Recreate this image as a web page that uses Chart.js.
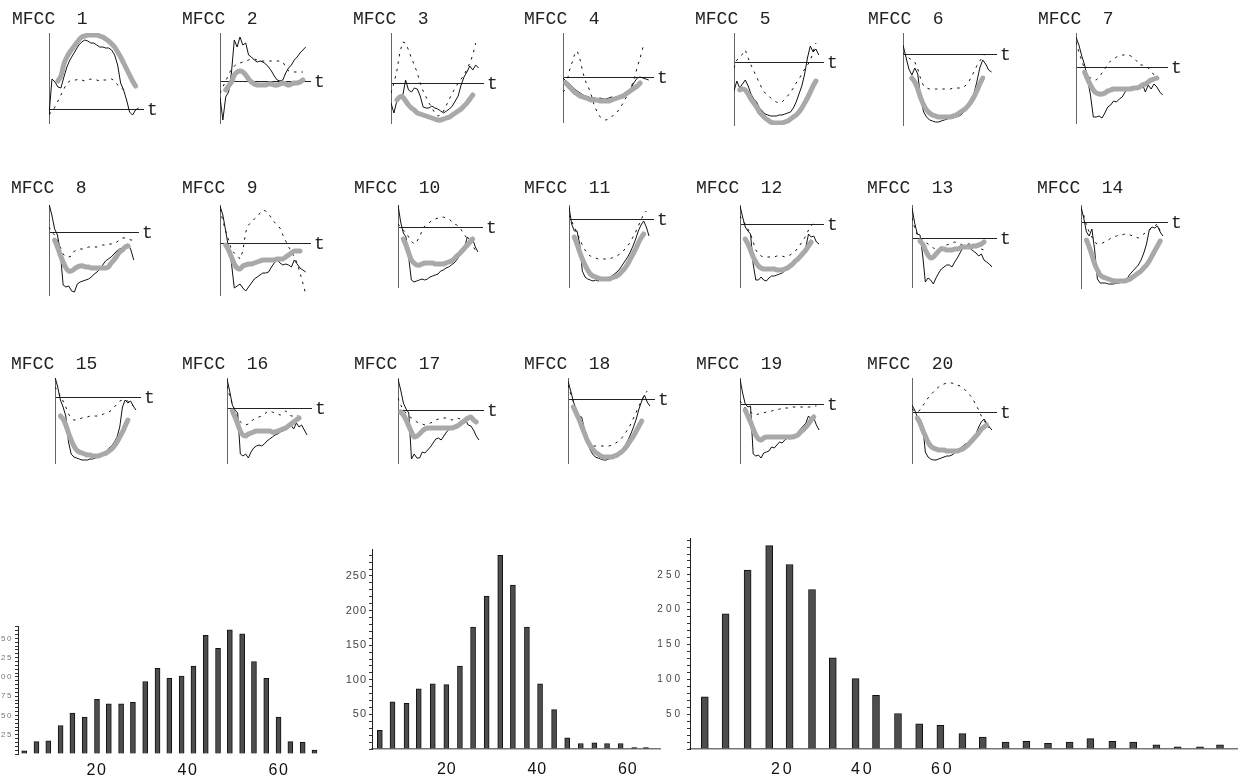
<!DOCTYPE html>
<html>
<head>
<meta charset="utf-8">
<title>MFCC trajectories and histograms</title>
<script src="https://cdn.jsdelivr.net/npm/chart.js@4.4.1/dist/chart.umd.min.js"></script>
<style>
  html, body { margin: 0; background: #fff; }
  body { position: relative; width: 1238px; height: 781px; overflow: hidden; }
  canvas { position: absolute; }
</style>
</head>
<body>
<script>
// ---- data ----

// sample positions along t, shared by every small panel
const tIndex = [0, 1, 2, 3, 4, 5, 6, 7, 8, 9, 10, 11, 12, 13, 14, 15, 16, 17, 18, 19, 20, 21, 22, 23, 24, 25, 26, 27, 28, 29, 30];

const mfccTitles = ['MFCC  1', 'MFCC  2', 'MFCC  3', 'MFCC  4', 'MFCC  5', 'MFCC  6', 'MFCC  7',
  'MFCC  8', 'MFCC  9', 'MFCC  10', 'MFCC  11', 'MFCC  12', 'MFCC  13', 'MFCC  14',
  'MFCC  15', 'MFCC  16', 'MFCC  17', 'MFCC  18', 'MFCC  19', 'MFCC  20'];

// thin solid black trace, one row per MFCC
const solidLines = [
  [-6, 30, 27, 22, 21, 32, 42, 49, 54, 59, 64, 67, 69, 68, 66, 66, 64, 62, 62, 61, 61, 59, 54, 44, 26, 19, 9, -3, -6, -1, 1],
  [-16, -39, -16, -11, 8, 41, 34, 44, 36, 38, 26, 24, 21, 19, 20, 19, 17, 14, 10, 5, 1, 0, 1, 8, 13, 16, 21, 24, 28, 31, 34],
  [-20, -30, -18, -15, -13, 3, -7, -9, -5, -6, -13, -24, -25, -25, -23, -25, -26, -28, -30, -28, -26, -23, -18, -13, -2, 6, 11, 17, 13, 18, 15],
  [-1, -4, -6, -9, -12, -14, -16, -18, -19, -20, -21, -21, -22, -21, -22, -22, -21, -20, -21, -20, -19, -18, -17, -15, -10, -5, -1, 0, -1, -2, -3],
  [-29, -19, -26, -22, -18, -24, -32, -37, -40, -46, -49, -52, -53, -54, -54, -54, -53, -53, -52, -51, -50, -46, -40, -32, -24, -12, 4, 16, 10, 13, 7],
  [9, -3, -15, -21, -14, -20, -45, -58, -63, -66, -67, -68, -68, -67, -66, -65, -64, -64, -63, -62, -60, -57, -53, -48, -40, -28, -14, -6, -10, -16, -18],
  [30, 22, 11, 2, -12, -28, -50, -50, -49, -51, -46, -40, -38, -34, -35, -32, -30, -25, -22, -20, -22, -22, -19, -17, -25, -18, -22, -17, -20, -25, -28],
  [28, 17, 3, -3, -20, -53, -55, -54, -59, -60, -52, -50, -49, -48, -47, -45, -42, -40, -37, -33, -29, -27, -25, -22, -19, -17, -16, -13, -12, -18, -28],
  [37, 28, 12, -5, -20, -45, -43, -41, -45, -48, -44, -40, -36, -34, -32, -30, -30, -29, -24, -20, -17, -20, -22, -21, -22, -24, -17, -21, -25, -27, -29],
  [22, 5, -6, -10, -30, -53, -55, -54, -53, -52, -53, -52, -50, -49, -48, -47, -44, -43, -41, -40, -38, -36, -33, -29, -25, -20, -10, -13, -12, -20, -25],
  [12, -5, -12, -12, -25, -52, -58, -60, -61, -62, -61, -62, -61, -60, -60, -59, -57, -55, -53, -50, -46, -42, -38, -33, -27, -20, -12, -6, -2, -8, -17],
  [18, 7, -3, -7, -10, -40, -56, -56, -53, -56, -57, -54, -52, -52, -51, -50, -49, -47, -45, -42, -40, -37, -34, -30, -27, -23, -10, -13, -12, -18, -20],
  [30, 15, 4, 3, -17, -44, -40, -42, -46, -40, -35, -31, -29, -27, -27, -29, -24, -20, -15, -10, -8, -7, -11, -13, -15, -18, -16, -22, -24, -26, -29],
  [15, 4, -10, -14, -7, -28, -57, -61, -61, -61, -62, -62, -62, -61, -61, -59, -58, -56, -52, -49, -46, -43, -38, -31, -22, -8, -5, -6, -4, -10, -14],
  [20, 10, -3, -10, -19, -45, -57, -60, -61, -62, -63, -63, -63, -62, -62, -61, -60, -58, -56, -54, -51, -49, -45, -40, -30, -10, -3, -6, -4, -9, -13],
  [29, 17, 3, -2, -5, -46, -48, -46, -50, -44, -40, -38, -37, -38, -36, -33, -31, -29, -27, -26, -24, -23, -21, -19, -17, -21, -15, -19, -17, -22, -27],
  [31, 20, 7, 1, -3, -49, -44, -48, -48, -42, -43, -40, -37, -33, -29, -28, -30, -26, -22, -19, -18, -17, -15, -14, -12, -10, -15, -16, -20, -26, -30],
  [18, 8, -3, -10, -17, -18, -30, -42, -50, -55, -58, -59, -60, -61, -61, -60, -59, -58, -56, -53, -50, -46, -41, -35, -28, -20, -10, -2, 4, -3, -7],
  [25, 11, 0, -3, -2, -50, -52, -51, -54, -49, -48, -47, -43, -44, -41, -38, -39, -36, -34, -35, -33, -31, -28, -25, -22, -19, -12, -15, -14, -21, -26],
  [7, 2, -5, -7, -13, -40, -45, -47, -48, -48, -47, -46, -45, -44, -44, -43, -41, -39, -37, -34, -32, -31, -30, -27, -22, -15, -10, -7, -11, -15, -18]
];

// thin dashed black trace
const dashedLines = [
  [-5, -3, 2, 8, 14, 20, 26, 28, 29, 29, 30, 29, 28, 29, 30, 29, 29, 28, 29, 29, 29, 30, 28, 24, 22, 19, null, null, null, null, null],
  [-12, -6, 0, 6, 12, 15, 17, 18, 19, 20, 21, 22, 22, 21, 20, 20, 20, 20, 20, 20, 20, 20, 19, 14, 10, 9, 9, 9, 9, 9, null],
  [-10, 0, 12, 30, 41, 40, 33, 25, 18, 10, 0, -8, -14, -20, -25, -30, -33, -32, -28, -22, -16, -10, -5, 0, 4, 8, 14, 20, 28, 40, null],
  [-15, -12, 4, 13, 22, 26, 17, 4, -5, -11, -19, -29, -35, -40, -42, -43, -42, -40, -37, -35, -31, -26, -21, -16, -9, -1, 10, 19, 30, null, null],
  [-6, 2, 4, 8, 12, 4, -3, -9, -15, -21, -27, -31, -33, -36, -38, -40, -41, -40, -37, -34, -30, -26, -21, -17, -12, -7, -3, 1, 10, 19, null],
  [1, -2, -4, -6, -8, -15, -25, -32, -34, -35, -35, -35, -35, -35, -35, -35, -35, -34, -34, -34, -34, -32, -29, -24, -18, -12, -7, -3, 0, null, null],
  [25, 15, 6, -2, -8, -11, -13, -13, -10, -6, -2, 3, 6, 8, 10, 11, 12, 12, 12, 11, 9, 6, 2, 2, 1, -1, -4, -8, null, null, null],
  [5, 0, -3, -8, -15, -22, -25, -25, -24, -19, -18, -17, -17, -16, -15, -15, -15, -15, -14, -13, -13, -12, -12, -12, -10, -8, -6, -6, -7, -8, -8],
  [34, 22, 12, 3, -7, -10, -12, -16, -8, 11, 18, 21, 24, 26, 30, 33, 32, 29, 25, 21, 18, 15, 8, 2, -4, -8, -14, -20, -30, -40, -51],
  [3, 0, -3, -6, -10, -14, -17, -15, -10, -4, 1, 3, 5, 7, 8, 9, 10, 10, 9, 8, 6, 3, 2, 0, -4, -8, -12, -15, -19, -23, null],
  [4, -2, -8, -14, -20, -26, -31, -35, -37, -38, -39, -40, -40, -40, -40, -40, -39, -38, -37, -35, -33, -30, -27, -23, -18, -13, -7, -1, 5, 8, null],
  [8, 3, 0, -5, -10, -18, -26, -30, -32, -33, -33, -33, -33, -33, -32, -32, -32, -33, -32, -31, -29, -27, -24, -20, -16, -12, -6, -2, 1, 2, null],
  [20, 10, 3, 0, -2, -4, -6, -8, -10, -11, -10, -9, -8, -7, -6, -5, -4, -5, -6, -7, -7, -6, -6, -6, -7, -9, -11, -12, -14, null, null],
  [14, 7, -3, -10, -15, -20, -22, -22, -21, -19, -18, -16, -15, -14, -13, -13, -12, -12, -13, -14, -15, -16, -14, -12, -10, -8, -6, -4, -2, -9, null],
  [10, 6, 1, -4, -10, -17, -21, -23, -23, -22, -21, -20, -20, -19, -19, -19, -19, -18, -17, -16, -15, -13, -10, -7, -4, -3, -3, -4, -7, -9, null],
  [22, 12, 4, -3, -9, -14, -16, -17, -16, -14, -11, -10, -9, -8, -6, -4, -3, -4, -5, -6, -7, -5, -3, -5, -8, -8, -7, -9, -12, null, null],
  [12, 5, 0, -3, -6, -8, -10, -12, -13, -14, -15, -14, -13, -12, -10, -9, -8, -8, -8, -9, -10, -9, -8, -9, -10, -9, -8, -9, -11, -13, null],
  [14, 5, -3, -12, -20, -28, -35, -41, -45, -47, -47, -47, -47, -47, -47, -47, -46, -45, -43, -41, -38, -34, -30, -25, -19, -13, -7, -1, 4, 8, null],
  [3, -1, -4, -6, -8, -10, -11, -10, -9, -9, -8, -8, -7, -6, -6, -5, -5, -4, -4, -4, -3, -3, -3, -3, -3, -3, -3, -3, -2, -2, null],
  [3, 1, 0, 2, 6, 10, 14, 17, 20, 23, 25, 27, 28, 29, 29, 29, 28, 27, 26, 24, 22, 19, 16, 12, 7, 2, -4, -8, -13, -16, null]
];

// thick grey smoothed trace
const smoothLines = [
  [null, null, null, 28, 33, 45, 52, 57, 61, 65, 69, 72, 73, 74, 74, 74, 74, 73, 72, 70, 68, 65, 62, 57, 52, 46, 40, 34, 28, 23, null],
  [null, null, -9, -5, -1, 6, 9, 10, 9, 6, 2, -1, -3, -4, -4, -4, -4, -3, -3, -4, -4, -3, -2, -3, -4, -3, -2, -2, -1, 1, null],
  [null, null, -17, -14, -14, -18, -22, -25, -27, -30, -31, -32, -33, -34, -35, -36, -37, -37, -36, -35, -34, -32, -30, -28, -26, -23, -20, -16, -12, null, null],
  [null, -6, -9, -12, -15, -17, -19, -20, -21, -22, -23, -23, -23, -24, -24, -24, -24, -23, -22, -21, -20, -19, -17, -15, -13, -11, -9, -6, null, null, null],
  [null, null, -28, -27, -28, -32, -37, -41, -45, -50, -53, -56, -58, -60, -61, -61, -61, -61, -60, -59, -57, -55, -53, -50, -46, -41, -36, -30, -24, -19, null],
  [null, null, null, -24, -28, -35, -44, -51, -56, -59, -61, -62, -63, -63, -63, -63, -63, -62, -61, -59, -57, -55, -52, -48, -43, -37, -30, -24, null, null, null],
  [null, null, null, -5, -12, -18, -23, -26, -27, -27, -26, -24, -23, -22, -22, -22, -22, -22, -22, -22, -21, -21, -20, -18, -17, -15, -13, -12, -11, null, null],
  [null, null, -8, -15, -23, -30, -36, -39, -39, -37, -35, -34, -34, -35, -35, -36, -36, -36, -36, -36, -36, -35, -31, -28, -24, -20, -18, -15, -14, null, null],
  [null, null, -2, -7, -14, -21, -25, -26, -23, -22, -21, -21, -20, -19, -18, -17, -17, -17, -17, -17, -16, -16, -16, -14, -12, -10, -8, -8, -8, null, null],
  [null, null, -12, -18, -26, -33, -36, -38, -38, -37, -36, -36, -36, -36, -37, -37, -37, -37, -36, -35, -34, -32, -29, -27, -24, -21, -18, -15, -12, null, null],
  [null, null, -18, -25, -33, -40, -46, -51, -55, -57, -58, -59, -60, -60, -60, -60, -59, -58, -57, -55, -52, -49, -45, -40, -35, -30, -24, -19, -15, null, null],
  [null, null, -15, -20, -26, -33, -38, -42, -44, -45, -45, -45, -45, -45, -46, -46, -46, -45, -44, -42, -40, -37, -35, -32, -29, -26, -22, -18, null, null, null],
  [null, null, null, -3, -6, -12, -17, -20, -19, -16, -13, -11, -11, -12, -12, -12, -11, -11, -10, -9, -9, -9, -9, -8, -8, -7, -6, -4, null, null, null],
  [null, null, -18, -25, -33, -42, -48, -53, -55, -56, -57, -58, -59, -59, -59, -59, -59, -58, -57, -55, -53, -51, -49, -46, -43, -39, -34, -29, -24, -19, null],
  [null, null, -19, -22, -28, -36, -43, -49, -53, -55, -56, -57, -58, -58, -59, -59, -59, -58, -57, -56, -54, -52, -49, -45, -40, -35, -29, -23, null, null, null],
  [null, null, -3, -9, -16, -23, -27, -28, -26, -25, -24, -23, -23, -23, -23, -23, -23, -24, -24, -23, -22, -21, -20, -18, -16, -14, -12, -10, null, null, null],
  [null, -2, -5, -10, -16, -22, -27, -26, -24, -21, -19, -18, -18, -18, -18, -18, -18, -18, -18, -18, -18, -17, -16, -14, -12, -10, -8, -7, -10, -12, null],
  [null, null, -8, -14, -20, -27, -34, -41, -46, -50, -53, -55, -57, -58, -58, -58, -58, -57, -56, -54, -52, -49, -45, -41, -37, -32, -27, -22, null, null, null],
  [null, null, -6, -12, -18, -25, -31, -35, -36, -34, -33, -33, -33, -33, -33, -33, -33, -33, -33, -33, -33, -32, -31, -28, -26, -23, -20, -16, -13, null, null],
  [null, null, -6, -11, -18, -24, -30, -34, -36, -37, -38, -38, -38, -39, -39, -39, -39, -39, -38, -37, -35, -33, -30, -27, -24, -21, -17, -15, -13, null, null]
];

// vertical plot range of each panel [bottom, top]
const yRanges = [
  [-14, 76], [-42, 48], [-40, 50], [-45, 44], [-63, 29], [-71, 21], [-56, 34],
  [-63, 27], [-52, 38], [-60, 22], [-68, 14], [-63, 19], [-49, 33], [-66, 17],
  [-66, 19], [-55, 30], [-53, 32], [-64, 21], [-59, 26], [-51, 34]
];

// histograms: bin centres and counts
const hist1Bins = [4.0, 6.7, 9.3, 12.0, 14.6, 17.3, 20.0, 22.6, 25.3, 27.9, 30.6, 33.3, 35.9, 38.6, 41.2, 43.9, 46.6, 49.2, 51.9, 54.5, 57.2, 59.9, 62.5, 65.2, 67.8];
const hist1Counts = [4, 16, 17, 37, 53, 48, 71, 65, 65, 67, 94, 111, 98, 101, 114, 154, 137, 161, 156, 120, 98, 48, 16, 15, 5];
const hist2Bins = [5.2, 8.0, 11.1, 13.8, 16.9, 19.9, 22.9, 25.8, 28.8, 31.8, 34.6, 37.7, 40.6, 43.7, 46.6, 49.6, 52.6, 55.4, 58.4, 61.4, 64.0];
const hist2Counts = [27, 68, 66, 87, 94, 93, 120, 176, 221, 280, 237, 176, 94, 57, 16, 8, 9, 8, 8, 2, 2];
const hist3Bins = [0.5, 5.7, 11.2, 16.6, 21.7, 27.3, 32.5, 38.2, 43.3, 48.8, 54.1, 59.4, 64.9, 70.0, 75.7, 80.9, 86.3, 91.7, 96.9, 102.4, 107.6, 113.4, 118.7, 124.3, 129.3];
const hist3Counts = [75, 194, 257, 292, 265, 229, 131, 101, 77, 51, 36, 34, 22, 17, 10, 11, 8, 10, 15, 11, 10, 6, 3, 3, 6];
const histTickLabels = [20, 40, 60];

// ---- layout of the small panels ----
const panelTitleLeft = [12, 182, 353, 524, 695, 868, 1038, 11, 182, 354, 524, 696, 867, 1037, 11, 182, 354, 524, 696, 867];
const panelAxisLeft = [49, 220, 391, 563, 734, 903, 1076, 49, 220, 398, 569, 740, 912, 1081, 55, 227, 398, 568, 740, 912];
const panelAxisWidth = [94, 90, 92, 90, 89, 93, 91, 89, 90, 84, 84, 83, 84, 86, 85, 84, 85, 86, 83, 84];
const rowTitleY = [19, 188, 364];
const rowAxisTop = [33, 205, 378];

Chart.defaults.font.family = 'Liberation Sans';
Chart.defaults.animation = false;

function place(w, h, left, top) {
  const cv = document.createElement('canvas');
  cv.width = w;
  cv.height = h;
  cv.style.left = left + 'px';
  cv.style.top = top + 'px';
  document.body.appendChild(cv);
  return cv;
}

const toPoints = (xs, ys) => ys.map((y, i) => ({ x: xs[i], y: y }));

// the "t" at the end of each horizontal axis
const tLabel = {
  id: 'tLabel',
  afterDraw(chart) {
    const { ctx, chartArea, scales } = chart;
    ctx.save();
    ctx.font = '18px "Liberation Mono"';
    ctx.fillStyle = '#222';
    ctx.textAlign = 'left';
    ctx.textBaseline = 'middle';
    ctx.fillText('t', chartArea.right + 4, scales.y.getPixelForValue(0) + 1);
    ctx.restore();
  }
};

// canvas letter spacing for the spaced-out histogram labels
const spacing = {
  id: 'spacing',
  beforeUpdate(chart, args, opts) { chart.ctx.letterSpacing = opts.px || '0px'; },
  beforeDraw(chart, args, opts) { chart.ctx.letterSpacing = opts.px || '0px'; }
};

mfccTitles.forEach((title, k) => {
  const row = Math.floor(k / 7);
  const [yMin, yMax] = yRanges[k];
  const top = rowTitleY[row] - 9;
  const yAxisW = panelAxisLeft[k] - panelTitleLeft[k];
  const plotH = yMax - yMin;
  const cv = place(yAxisW + panelAxisWidth[k] + 24, rowAxisTop[row] - top + plotH + 1, panelTitleLeft[k], top);

  new Chart(cv, {
    type: 'line',
    data: {
      datasets: [
        { data: toPoints(tIndex, smoothLines[k]), borderColor: '#a9a9a9', borderWidth: 5, tension: 0.3, borderCapStyle: 'round', borderJoinStyle: 'round' },
        { data: toPoints(tIndex, solidLines[k]), borderColor: '#111', borderWidth: 1 },
        { data: toPoints(tIndex, dashedLines[k]), borderColor: '#111', borderWidth: 1, borderDash: [2.5, 5] }
      ]
    },
    options: {
      responsive: false,
      events: [],
      elements: { point: { radius: 0 }, line: { tension: 0 } },
      layout: { padding: { right: 24, bottom: 1 } },
      plugins: {
        legend: { display: false },
        tooltip: { enabled: false },
        title: {
          display: true,
          text: title,
          align: 'start',
          color: '#222',
          font: { family: 'Liberation Mono', size: 18, weight: 'normal', lineHeight: 1 },
          padding: { top: 0, bottom: rowAxisTop[row] - top - 18 }
        }
      },
      scales: {
        x: {
          type: 'linear', min: 0, max: 31.5,
          position: { y: 0 },
          grid: { display: false, drawTicks: false },
          ticks: { display: false },
          border: { color: '#222', width: 1 }
        },
        y: {
          min: yMin, max: yMax,
          grid: { display: false, drawTicks: false },
          ticks: { display: false },
          border: { color: '#666', width: 1 },
          afterFit: s => { s.width = yAxisW; }
        }
      }
    },
    plugins: [tLabel]
  });
});

// ---- histograms ----
function histogram(cfg) {
  const cv = place(cfg.w, cfg.h, cfg.left, cfg.top);
  new Chart(cv, {
    type: 'bar',
    data: {
      datasets: [{
        data: toPoints(cfg.bins, cfg.counts),
        backgroundColor: '#4d4d4d',
        borderColor: '#111',
        borderWidth: 1,
        barThickness: cfg.barW
      }]
    },
    options: {
      responsive: false,
      events: [],
      layout: { padding: { top: cfg.padTop, right: cfg.padRight } },
      plugins: { legend: { display: false }, tooltip: { enabled: false }, spacing: { px: cfg.spacing } },
      scales: {
        x: {
          type: 'linear', min: cfg.xMin, max: cfg.xMax, offset: false,
          grid: { display: false, drawTicks: false },
          border: { display: cfg.xLine, color: '#777', width: 1.5 },
          ticks: {
            stepSize: 20, autoSkip: false, includeBounds: false, maxRotation: 0,
            padding: cfg.xPad, color: '#111', font: { size: 16 },
            callback: v => histTickLabels.includes(v) ? String(v) : ''
          },
          afterFit: s => { s.height = cfg.xH; }
        },
        y: {
          min: 0, max: cfg.yMax,
          grid: { display: true, drawOnChartArea: false, drawTicks: true, tickLength: 3, tickColor: '#333' },
          border: { color: '#222', width: 1 },
          ticks: {
            stepSize: cfg.minor, autoSkip: false, includeBounds: false,
            padding: cfg.yPad, color: cfg.yColor, font: { size: cfg.ySize },
            callback: v => (v > 0 && v <= cfg.labelTop && v % cfg.major === 0) ? String(v) : ''
          },
          afterFit: s => { s.width = cfg.yW; }
        }
      }
    },
    plugins: [spacing]
  });
}

histogram({ left: -12, top: 610, w: 335, h: 171, bins: hist1Bins, counts: hist1Counts, barW: 5,
  xMin: 2.64, xMax: 69.67, xLine: false, xH: 27, xPad: 7, padTop: 16, padRight: 0,
  yMax: 166, minor: 5, major: 25, labelTop: 150, yW: 30, yPad: 2, ySize: 8, yColor: '#777', spacing: '1.5px' });

histogram({ left: 330, top: 540, w: 332, h: 241, bins: hist2Bins, counts: hist2Counts, barW: 5,
  xMin: 3.47, xMax: 67.1, xLine: true, xH: 32, xPad: 11, padTop: 9, padRight: 2,
  yMax: 289, minor: 10, major: 50, labelTop: 250, yW: 42, yPad: 2, ySize: 11, yColor: '#444', spacing: '1px' });

histogram({ left: 650, top: 528, w: 588, h: 253, bins: hist3Bins, counts: hist3Counts, barW: 7,
  xMin: -3.2, xMax: 133.8, xLine: true, xH: 32, xPad: 11, padTop: 9, padRight: 0,
  yMax: 303, minor: 10, major: 50, labelTop: 250, yW: 40, yPad: 4, ySize: 10, yColor: '#444', spacing: '3px' });
</script>
